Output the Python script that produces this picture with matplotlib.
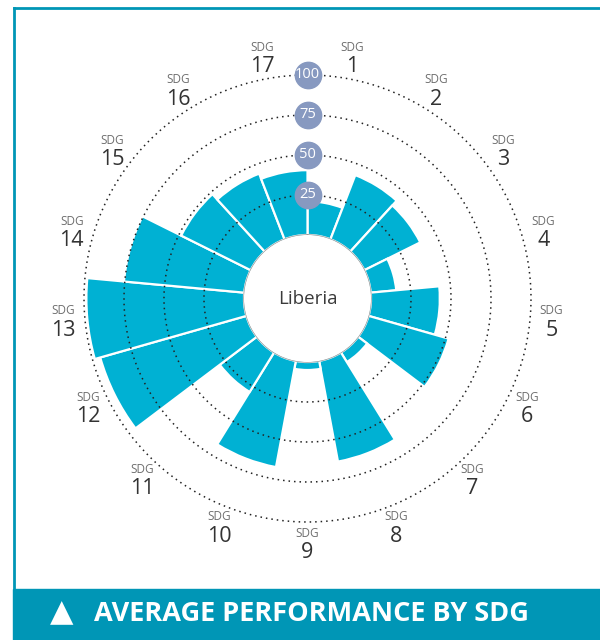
import numpy as np
import matplotlib
matplotlib.use("Agg")
import matplotlib.pyplot as plt
from matplotlib.lines import Line2D
from matplotlib.patches import Rectangle

# data
goals = [str(i) for i in range(1, 18)]
scores = [21, 43, 39, 16, 43, 52, 7, 64, 5, 67.5, 29, 95, 98.5, 75.5, 48.5, 44, 40.5]
rings = [25, 50, 75, 100]
country = "Liberia"
title = "AVERAGE PERFORMANCE BY SDG"

bar_col = "#00B1D3"
teal = "#0096B6"
badge_col = "#8799C0"
sans = ["Open Sans", "DejaVu Sans"]

fig = plt.figure(figsize=(6, 6.4), dpi=100)

# polar axes centred at (307.5, 298.5) px, radius 255.5 px
hole = 39.7
rmax = 120
rad_px = (rmax + hole) * 1.6
cx, cy = 307.5, 298.5
ax = fig.add_axes([(cx - rad_px) / 600, (640 - cy - rad_px) / 640,
                   2 * rad_px / 600, 2 * rad_px / 640], projection="polar")
ax.set_theta_zero_location("N")
ax.set_theta_direction(-1)
ax.set_rorigin(-hole)
ax.set_ylim(0, rmax)
ax.axis("off")

n = len(scores)
width = 2 * np.pi / n
theta = (np.arange(n) + 0.5) * width
ax.bar(theta, scores, width=width, bottom=0, color=bar_col,
       edgecolor="white", linewidth=1.6, zorder=2)

# dotted rings
t = np.linspace(0, 2 * np.pi, 500)
for r in rings:
    ax.plot(t, np.full_like(t, r), ls=(0, (1, 2.6)), lw=1.1, color="#222222", zorder=3)
ax.plot(t, np.zeros_like(t), color="#9a9a9a", lw=1.0, zorder=3)

# ring value badges at the top
ax.scatter([0] * len(rings), rings, s=360, color=badge_col, zorder=4, clip_on=False)
for r in rings:
    ax.text(0, r, str(r), ha="center", va="center", color="white",
            fontsize=10.5, family=sans, zorder=5)

ax.text(0, -hole, country, ha="center", va="center", fontsize=13.5,
        color="#3a3a3a", family=sans)

# goal labels
for th, g in zip(theta, goals):
    ax.annotate("SDG", (th, 113.5), xytext=(0, 7.5), textcoords="offset points",
                ha="center", va="center", fontsize=8.5, color="#6e6e6e",
                family=sans, annotation_clip=False)
    ax.annotate(g, (th, 113.5), xytext=(0, -6.5), textcoords="offset points",
                ha="center", va="center", fontsize=15.5, color="#333333",
                family=sans, annotation_clip=False)

# frame and banner
fig.add_artist(Line2D([13.5 / 600, 1], [1 - 8 / 640] * 2, color=teal, lw=2))
fig.add_artist(Line2D([13.5 / 600] * 2, [1 - 8 / 640, 1 - 591 / 640], color=teal, lw=2))
fig.add_artist(Rectangle((12.5 / 600, 0), 1, 1 - 589 / 640, color=teal,
                         transform=fig.transFigure))
fig.text(62 / 600, 1 - 613 / 640, "\u25B2", ha="center", va="center",
         color="white", fontsize=22, family="DejaVu Sans")
fig.text(94 / 600, 1 - 614 / 640, title, ha="left", va="center",
         color="white", fontsize=19.5, fontweight="bold", family=sans)

fig.savefig("out.png", dpi=100)
